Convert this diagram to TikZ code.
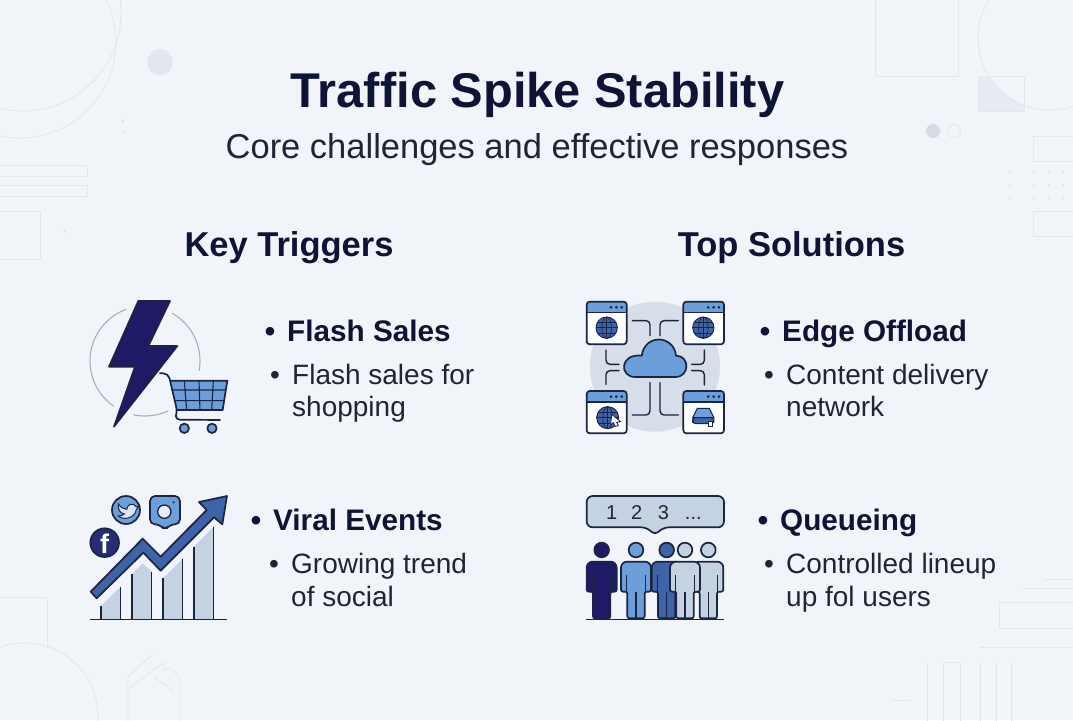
\documentclass[tikz,border=0pt]{standalone}
\usepackage{fontspec}
\setmainfont{Liberation Sans}
\definecolor{bgc}{HTML}{F1F4F9}
\definecolor{deco}{HTML}{E3E6EC}
\definecolor{decofill}{HTML}{E6EBF4}
\definecolor{decodot}{HTML}{D7DBE5}
\definecolor{navy}{HTML}{1E1A66}
\definecolor{ink}{HTML}{1B2440}
\definecolor{midblue}{HTML}{3F63A8}
\definecolor{skyblue}{HTML}{6C9FDA}
\definecolor{pale}{HTML}{C5D2E2}
\definecolor{halo}{HTML}{D6DEE9}
\definecolor{titlec}{HTML}{0E1436}
\definecolor{bodyc}{HTML}{1F2533}
\tikzset{
  decoline/.style={draw=deco,line width=0.9pt},
  icon/.style={x=0.3333pt,y=-0.3333pt},
  ol/.style={draw=ink,line width=1.7pt,line join=round},
  wire/.style={draw=ink,line width=1.4pt,rounded corners=4pt,line cap=round},
  titletxt/.style={inner sep=0,anchor=base,text=titlec,font=\fontsize{48.8}{48.8}\selectfont\bfseries},
  subtxt/.style={inner sep=0,anchor=base,text=bodyc,font=\fontsize{34.5}{34.5}\selectfont},
  headtxt/.style={inner sep=0,anchor=base,text=titlec,font=\fontsize{34.5}{34.5}\selectfont\bfseries},
  itemtxt/.style={inner sep=0,anchor=base west,text=titlec,font=\fontsize{29.7}{29.7}\selectfont\bfseries},
  itembul/.style={inner sep=0,anchor=base,text=titlec,font=\fontsize{29.7}{29.7}\selectfont\bfseries},
  desctxt/.style={inner sep=0,anchor=base west,text=bodyc,font=\fontsize{28}{28}\selectfont},
  descbul/.style={inner sep=0,anchor=base,text=bodyc,font=\fontsize{28}{28}\selectfont},
  digit/.style={inner sep=0,anchor=base,text=bodyc,font=\fontsize{20}{20}\selectfont},
}
% window icon: left, top, right, bottom
\newcommand{\winfig}[4]{%
  \fill[white,rounded corners=3pt] (#1,#2) rectangle (#3,#4);
  \fill[skyblue,rounded corners=3pt] (#1,#2) rectangle (#3,#2+33);
  \draw[ink,line width=1.2pt] (#1,#2+33) -- (#3,#2+33);
  \draw[ol,rounded corners=3pt] (#1,#2) rectangle (#3,#4);
  \foreach \d in {48,32,16} \fill[ink] (#3-\d+1,#2+17) circle (4.5);
}
\newcommand{\globefig}[3]{%
  \fill[midblue] (#1,#2) circle (#3);
  \draw[ink,line width=0.9pt] (#1,#2) circle (#3);
  \draw[ink,line width=0.7pt] (#1,#2) ellipse ({#3*0.45} and #3);
  \draw[ink,line width=0.7pt] (#1,#2-#3) -- (#1,#2+#3);
  \draw[ink,line width=0.7pt] (#1-#3,#2) -- (#1+#3,#2);
  \draw[ink,line width=0.7pt] (#1-#3*0.87,#2-#3*0.5) -- (#1+#3*0.87,#2-#3*0.5);
  \draw[ink,line width=0.7pt] (#1-#3*0.87,#2+#3*0.5) -- (#1+#3*0.87,#2+#3*0.5);
}
% person: centre x, fill
\newcommand{\personfig}[2]{%
  \draw[ol,fill=#2] (#1,210) circle (22);
  \draw[ol,fill=#2,rounded corners=2pt] (#1-26,415) -- (#1-26,335) -- (#1-45,335) [rounded corners=6pt] -- (#1-45,245) -- (#1+45,245) [rounded corners=2pt] -- (#1+45,335) -- (#1+26,335) -- (#1+26,415) -- cycle;
  \draw[ink,line width=1.2pt] (#1-28,285) -- (#1-28,335) (#1+28,285) -- (#1+28,335) (#1,335) -- (#1,415);
}
\begin{document}
\begin{tikzpicture}[x=1pt,y=-1pt]
\useasboundingbox (0,0) rectangle (1073,720);
\fill[bgc] (0,0) rectangle (1073,720);
\begin{scope}
\clip (0,0) rectangle (1073,720);
% top-left decoration
\draw[decoline] (20,42) circle (96);
\draw[decoline] (23,13) circle (98);
\draw[decoline] (-5,165) rectangle (87,176);
\draw[decoline] (-5,185) rectangle (87,196);
\draw[decoline] (-5,211) rectangle (40,259);
\fill[deco] (160,62) circle (13);
\foreach \p in {(123,121),(124,132),(65,231)} \fill[deco] \p circle (1.8);
% top-right decoration
\draw[decoline] (875,-5) rectangle (958,76);
\fill[decofill] (978,76) rectangle (1024,111);
\fill[bgc] (1050,38) circle (72);
\draw[decoline] (978,76) rectangle (1024,111);
\draw[decoline] (1050,38) circle (72);
\fill[decodot] (933,131) circle (7);
\draw[decoline] (954,131) circle (6.5);
\draw[decoline] (1033,136) rectangle (1080,161);
\draw[decoline] (1033,211) rectangle (1080,236);
\foreach \x in {1010,1034,1049,1063} \foreach \y in {172,185,198} \fill[deco] (\x,\y) circle (1.5);
% bottom-left decoration
\draw[decoline] (-5,597) -- (47,597) -- (47,648);
\draw[decoline] (25,716) circle (73);
\draw[decoline] (128,725) -- (128,677) -- (153,654);
\draw[decoline] (128,689) -- (163,663) -- (165,670) -- (170,668) -- (180,677) -- (180,725);
\draw[decoline] (154,677) -- (173,691);
% bottom-right decoration
\draw[decoline] (1043,579) -- (1080,579);
\draw[decoline] (1023,588) -- (1080,588);
\draw[decoline] (999,602) rectangle (1080,628);
\draw[decoline] (980,647) -- (1080,647);
\draw[decoline] (927,662) -- (927,725);
\draw[decoline] (943,725) -- (943,662) -- (960,662) -- (960,725);
\draw[decoline] (980,662) -- (980,725);
\draw[decoline] (996,662) -- (996,725);
\draw[decoline] (1011,662) -- (1011,725);
\draw[decoline] (891,700) -- (910,700);
\end{scope}

% titles
\node[titletxt] (title) at (537.5,107) {Traffic Spike Stability};
\node[subtxt] (subtitle) at (537,158) {Core challenges and effective responses};
\node[headtxt] (keyhead) at (289,256) {Key Triggers};
\node[headtxt] (tophead) at (791.5,256) {Top Solutions};

% items
\node[itembul] (flashdot) at (270,341) {•};
\node[itemtxt] (flash) at (287,341) {Flash Sales};
\node[descbul] (flashdotA) at (275,384) {•};
\node[desctxt] (flashA) at (292,384) {Flash sales for};
\node[desctxt] (flashB) at (292,416) {shopping};
\node[itembul] (viraldot) at (256,530) {•};
\node[itemtxt] (viral) at (273,530) {Viral Events};
\node[descbul] (viraldotA) at (274,573) {•};
\node[desctxt] (viralA) at (291,573) {Growing trend};
\node[desctxt] (viralB) at (291,606) {of social};
\node[itembul] (edgedot) at (765,341) {•};
\node[itemtxt] (edge) at (782,341) {Edge Offload};
\node[descbul] (edgedotA) at (769,384) {•};
\node[desctxt] (edgeA) at (786,384) {Content delivery};
\node[desctxt] (edgeB) at (786,416) {network};
\node[itembul] (queuedot) at (763,530) {•};
\node[itemtxt] (queue) at (780,530) {Queueing};
\node[descbul] (queuedotA) at (769,573) {•};
\node[desctxt] (queueA) at (786,573) {Controlled lineup};
\node[desctxt] (queueB) at (786,606) {up fol users};

% lightning & cart
\begin{scope}[shift={(70pt,-285pt)},icon]
\foreach \a/\b in {110/235,258/295,-10/60}
  \draw[pale!80!black!90,line width=1.1pt,line cap=round] plot[domain=\a:\b,samples=30,smooth] ({225+165*cos(\x)},{228-165*sin(\x)});
\draw[ol,fill=navy] (205,48) -- (300,48) -- (235,183) -- (322,183) -- (132,425) -- (195,245) -- (117,245) -- cycle;
\fill[skyblue] (300,287) -- (472,287) -- (458,375) -- (320,375) -- cycle;
\draw[ink,line width=1.1pt] (343,287) -- (350,375) (387,287) -- (390,375) (430,287) -- (425,375) (305,315) -- (468,315) (312,347) -- (463,347);
\draw[ol] (300,287) -- (472,287) -- (458,375) -- (320,375);
\draw[ol,line cap=round,rounded corners=5pt] (270,265) -- (295,265) -- (322,380) -- (314,404) -- (450,405);
\draw[ol,fill=skyblue] (343,430) circle (14);
\draw[ol,fill=skyblue] (426,430) circle (14);
\end{scope}

% growth chart
\begin{scope}[shift={(70pt,-480pt)},icon]
\fill[pale] (93,378) -- (152,320) -- (152,418) -- (93,418) -- cycle;
\fill[pale] (186,283) -- (218,250) -- (245,275) -- (245,418) -- (186,418) -- cycle;
\fill[pale] (279,295) -- (338,237) -- (338,418) -- (279,418) -- cycle;
\fill[pale] (372,200) -- (431,140) -- (431,418) -- (372,418) -- cycle;
\draw[ink,line width=1.2pt] (93,378) -- (93,418) (152,320) -- (152,418) (186,283) -- (186,418) (245,275) -- (245,418) (279,295) -- (279,418) (338,237) -- (338,418) (372,200) -- (372,418) (431,140) -- (431,418);
\draw[ink,line width=1.5pt] (60,418) -- (470,418);
\draw[ol,fill=midblue] (80,355) -- (220,218) -- (272,272) -- (432,112) -- (457,133) -- (471,48) -- (387,66) -- (410,90) -- (272,230) -- (218,176) -- (62,335) -- cycle;
\draw[ol,fill=navy!75!midblue] (104,188) circle (43);
\node[inner sep=0,text=white,font=\fontsize{27}{27}\selectfont\bfseries] (fbf) at (104,190) {f};
\draw[ol,fill=skyblue] (168,90) circle (42);
\draw[ink,line width=1pt,fill=pale!60!white] (145,72) .. controls (152,82) and (160,87) .. (170,88) .. controls (172,70) and (192,68) .. (198,80) -- (207,78) -- (199,88) .. controls (196,115) and (160,122) .. (145,108) .. controls (153,108) and (160,105) .. (163,102) .. controls (150,100) and (143,88) .. (145,72) -- cycle;
\draw[ol,fill=skyblue,rounded corners=5pt] (240,48) -- (330,48) -- (330,133) -- (300,133) -- (285,152) -- (270,133) -- (240,133) -- cycle;
\draw[ink,line width=1.3pt,fill=pale!40!white] (283,95) circle (20);
\fill[ink] (311,67) circle (3.5);
\end{scope}

% cloud network
\begin{scope}[shift={(570pt,-285pt)},icon]
\fill[halo] (255,245) circle (195);
\draw[wire] (187,107) -- (240,107) -- (240,152);
\draw[wire] (325,107) -- (270,107) -- (270,152);
\draw[wire] (108,195) -- (108,238) -- (147,238);
\draw[wire] (108,298) -- (108,257) -- (147,257);
\draw[wire] (403,195) -- (403,238) -- (365,238);
\draw[wire] (403,300) -- (403,257) -- (365,257);
\draw[wire] (240,293) -- (240,390) -- (187,390);
\draw[wire] (270,293) -- (270,390) -- (325,390);
\winfig{50}{50}{170}{178}
\winfig{340}{50}{462}{178}
\winfig{50}{318}{170}{445}
\winfig{340}{318}{462}{445}
\globefig{110}{128}{32}
\globefig{400}{128}{32}
\globefig{113}{398}{33}
\draw[ink,line width=0.8pt,fill=white] (125,388) -- (152,410) -- (140,412) -- (145,422) -- (136,424) -- (130,413) -- (122,420) -- cycle;
\draw[ink,line width=1pt,fill=skyblue] (368,398) -- (382,370) -- (418,370) -- (432,398) -- cycle;
\draw[ink,line width=1pt,fill=midblue,rounded corners=3pt] (368,398) rectangle (432,416);
\draw[ink,line width=0.8pt,fill=white] (416,408) -- (428,408) -- (428,424) -- (416,424) -- cycle;
\draw[ol,fill=skyblue] (195,276) -- (316,276) .. controls (360,276) and (360,212) .. (318,212) .. controls (312,150) and (225,145) .. (215,212) .. controls (148,205) and (148,276) .. (195,276) -- cycle;
\end{scope}

% queue
\begin{scope}[shift={(570pt,-480pt)},icon]
\draw[ol,fill=pale,rounded corners=6pt] (50,48) -- (462,48) -- (462,142) -- (278,142) -- (255,167) -- (232,142) -- (50,142) -- cycle;
\node[digit] (qa) at (125,117) {1};
\node[digit] (qb) at (200,117) {2};
\node[digit] (qc) at (280,117) {3};
\node[digit] (qd) at (370,117) {...};
\personfig{95}{navy}
\personfig{198}{skyblue}
\personfig{415}{pale}
\personfig{290}{midblue}
\personfig{345}{pale}
\draw[ink,line width=1.5pt] (48,418) -- (462,418);
\end{scope}
\end{tikzpicture}
\end{document}
